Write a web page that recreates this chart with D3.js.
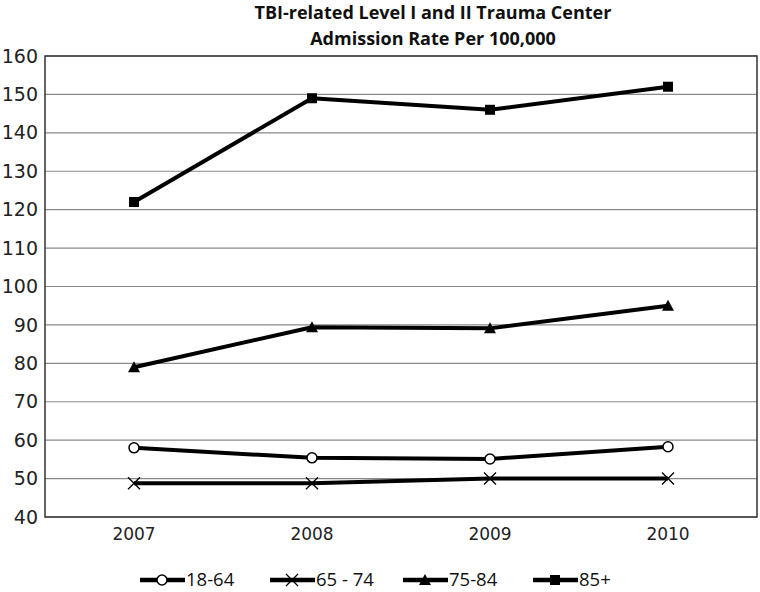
<!DOCTYPE html>
<html>
<head>
<meta charset="utf-8">
<script src="https://cdn.jsdelivr.net/npm/d3@7"></script>
<style>
  body { margin: 0; background: #fff; }
</style>
</head>
<body>
<svg id="chart" width="760" height="592"></svg>
<script>
// data
var years = ["2007", "2008", "2009", "2010"];
var ageGroups = ["18-64", "65 - 74", "75-84", "85+"];
var rate1864 = [58, 55.4, 55.1, 58.3];
var rate6574 = [48.8, 48.8, 50, 50];
var rate7584 = [79, 89.4, 89.1, 95];
var rate85 = [122, 149, 146, 152];
var yTicks = [40, 50, 60, 70, 80, 90, 100, 110, 120, 130, 140, 150, 160];

var seriesData = [rate1864, rate6574, rate7584, rate85];
var markers = ["circle", "cross", "triangle", "square"];

var svg = d3.select("#chart"),
    margin = {left: 45, top: 56, right: 3, bottom: 75},
    width = 760 - margin.left - margin.right,
    height = 592 - margin.top - margin.bottom;

var g = svg.append("g")
    .attr("transform", "translate(" + margin.left + "," + margin.top + ")");

var x = d3.scaleBand().domain(years).range([0, width]);
var y = d3.scaleLinear().domain([40, 160]).range([height, 0]);

// title
var title = svg.append("text")
    .attr("text-anchor", "middle")
    .attr("font-family", "'Open Sans', sans-serif")
    .attr("font-weight", "bold")
    .attr("font-size", 18)
    .attr("fill", "#111");
title.append("tspan").attr("x", 433).attr("y", 19).text("TBI-related Level I and II Trauma Center");
title.append("tspan").attr("x", 433).attr("y", 45).text("Admission Rate Per 100,000");

// grid lines
g.selectAll(".grid")
    .data(yTicks)
    .enter().append("line")
    .attr("x1", 0)
    .attr("x2", width)
    .attr("y1", function(d) { return y(d); })
    .attr("y2", function(d) { return y(d); })
    .attr("stroke", "#8a8a8a")
    .attr("stroke-width", 1.2);

// plot border
g.append("rect")
    .attr("width", width)
    .attr("height", height)
    .attr("fill", "none")
    .attr("stroke", "#333")
    .attr("stroke-width", 1.5);

// y axis labels
var yAxis = g.append("g")
    .call(d3.axisLeft(y).tickValues(yTicks).tickSize(0).tickPadding(7));
yAxis.select(".domain").remove();
yAxis.selectAll("text")
    .attr("font-family", "'DejaVu Sans', Verdana, sans-serif")
    .attr("font-size", 19)
    .attr("fill", "#222");

// x axis labels
var xAxis = g.append("g")
    .attr("transform", "translate(0," + height + ")")
    .call(d3.axisBottom(x).tickSize(0).tickPadding(11));
xAxis.select(".domain").remove();
xAxis.selectAll("text")
    .attr("font-family", "'DejaVu Sans', Verdana, sans-serif")
    .attr("font-size", 17)
    .attr("fill", "#222");

var line = d3.line()
    .x(function(d, i) { return x(years[i]) + x.bandwidth() / 2; })
    .y(function(d) { return y(d); });

function drawMarker(sel, type, cx, cy) {
    if (type == "circle") {
        sel.append("circle").attr("cx", cx).attr("cy", cy).attr("r", 5)
            .attr("fill", "#fff").attr("stroke", "#000").attr("stroke-width", 1.5);
    } else if (type == "cross") {
        sel.append("path")
            .attr("d", "M" + (cx - 6) + "," + (cy - 6) + "L" + (cx + 6) + "," + (cy + 6) +
                       "M" + (cx - 6) + "," + (cy + 6) + "L" + (cx + 6) + "," + (cy - 6))
            .attr("stroke", "#000").attr("stroke-width", 1.3).attr("fill", "none");
    } else if (type == "triangle") {
        sel.append("path")
            .attr("d", "M" + cx + "," + (cy - 6) + "L" + (cx + 6) + "," + (cy + 5) + "L" + (cx - 6) + "," + (cy + 5) + "Z")
            .attr("fill", "#000");
    } else {
        sel.append("rect").attr("x", cx - 5).attr("y", cy - 5).attr("width", 10).attr("height", 10)
            .attr("fill", "#000");
    }
}

seriesData.forEach(function(vals, k) {
    g.append("path")
        .datum(vals)
        .attr("d", line)
        .attr("fill", "none")
        .attr("stroke", "#000")
        .attr("stroke-width", 4)
        .attr("stroke-linejoin", "round");
    var mg = g.append("g");
    vals.forEach(function(v, i) {
        drawMarker(mg, markers[k], x(years[i]) + x.bandwidth() / 2, y(v));
    });
});

// legend
var legendX = [140, 270, 403, 533];
var legend = svg.append("g");
ageGroups.forEach(function(name, k) {
    var lx = legendX[k], ly = 580;
    legend.append("line")
        .attr("x1", lx).attr("x2", lx + 45)
        .attr("y1", ly).attr("y2", ly)
        .attr("stroke", "#000").attr("stroke-width", 4.5);
    drawMarker(legend, markers[k], lx + 22, ly);
    legend.append("text")
        .attr("x", lx + 46)
        .attr("y", ly + 6)
        .attr("font-family", "'Open Sans', sans-serif")
        .attr("font-size", 18.5)
        .attr("fill", "#111")
        .text(name);
});
</script>
</body>
</html>
